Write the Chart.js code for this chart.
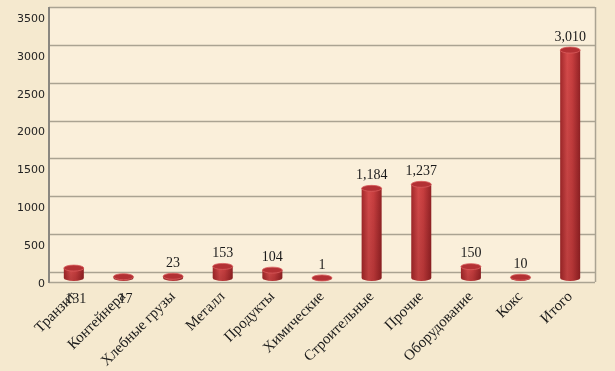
<!DOCTYPE html>
<html>
<head>
<meta charset="utf-8">
<script src="https://cdn.jsdelivr.net/npm/chart.js@4.4.0/dist/chart.umd.min.js"></script>
<style>
  html, body { margin: 0; padding: 0; background: #f5e9cf; }
  #wrap { width: 615px; height: 371px; }
</style>
</head>
<body>
<div id="wrap"><canvas id="myChart" width="615" height="371"></canvas></div>
<script>
// data
const categories = ['Транзит', 'Контейнера', 'Хлебные грузы', 'Металл', 'Продукты', 'Химические',
    'Строительные', 'Прочие', 'Оборудование', 'Кокс', 'Итого'];
const volumes = [131, 17, 23, 153, 104, 1, 1184, 1237, 150, 10, 3010];
const yTicks = [0, 500, 1000, 1500, 2000, 2500, 3000, 3500];
// labels that sit under the axis in the original
const labelsBelow = [0, 1];

const DEPTH = 10;   // back wall offset of the 3d look
const LIFT = 4;     // bars sit half way into the floor

// background + back wall grid
const wallPlugin = {
    id: 'wall',
    beforeDraw(chart) {
        const ctx = chart.ctx;
        const area = chart.chartArea;
        const y = chart.scales.y;
        ctx.save();
        ctx.fillStyle = '#f5e9cf';
        ctx.fillRect(0, 0, chart.width, chart.height);
        const top = y.getPixelForValue(3500) - DEPTH;
        ctx.fillStyle = '#faefda';
        ctx.fillRect(area.left, top, area.right - area.left, area.bottom - top);
        ctx.restore();
    },
    beforeDatasetsDraw(chart) {
        const ctx = chart.ctx;
        const area = chart.chartArea;
        const y = chart.scales.y;
        const top = y.getPixelForValue(3500) - DEPTH;
        ctx.save();
        ctx.strokeStyle = '#aaa392';
        ctx.lineWidth = 1.5;
        yTicks.forEach(v => {
            const py = Math.round(y.getPixelForValue(v) - DEPTH) + 0.5;
            ctx.beginPath();
            ctx.moveTo(area.left, py);
            ctx.lineTo(area.right, py);
            ctx.stroke();
        });
        // right border and floor
        ctx.beginPath();
        ctx.moveTo(area.right + 0.5, top);
        ctx.lineTo(area.right + 0.5, area.bottom);
        ctx.moveTo(area.left, area.bottom + 0.5);
        ctx.lineTo(area.right, area.bottom + 0.5);
        ctx.stroke();
        // left axis
        ctx.strokeStyle = '#8a8780';
        ctx.lineWidth = 2;
        ctx.beginPath();
        ctx.moveTo(area.left, top);
        ctx.lineTo(area.left, area.bottom + 1);
        ctx.stroke();
        ctx.restore();
    }
};

// cylinders drawn over the (invisible) bar elements
const cylinderPlugin = {
    id: 'cylinders',
    afterDatasetsDraw(chart) {
        const ctx = chart.ctx;
        const meta = chart.getDatasetMeta(0);
        ctx.save();
        meta.data.forEach((bar, i) => {
            const w = bar.width;
            const left = bar.x - w / 2;
            const top = bar.y - LIFT;
            const bottom = bar.base - LIFT;
            const ry = 3;

            const grad = ctx.createLinearGradient(left, 0, left + w, 0);
            grad.addColorStop(0, '#a2282a');
            grad.addColorStop(0.35, '#d44a4a');
            grad.addColorStop(0.6, '#c83e3f');
            grad.addColorStop(1, '#932225');

            ctx.fillStyle = grad;
            ctx.beginPath();
            ctx.moveTo(left, top);
            ctx.lineTo(left, bottom);
            ctx.ellipse(bar.x, bottom, w / 2, ry, 0, Math.PI, 0, true);
            ctx.lineTo(left + w, top);
            ctx.closePath();
            ctx.fill();

            // darker towards the floor
            const shade = ctx.createLinearGradient(0, top, 0, bottom);
            shade.addColorStop(0, 'rgba(0,0,0,0)');
            shade.addColorStop(1, 'rgba(60,0,0,0.15)');
            ctx.fillStyle = shade;
            ctx.fill();

            // top cap
            ctx.beginPath();
            ctx.ellipse(bar.x, top, w / 2, ry, 0, 0, Math.PI * 2);
            ctx.fillStyle = '#b33134';
            ctx.fill();
            ctx.strokeStyle = '#d85c5c';
            ctx.lineWidth = 0.8;
            ctx.stroke();

            // value label
            const v = volumes[i];
            ctx.fillStyle = '#1a1a1a';
            ctx.font = '14px "Liberation Serif", serif';
            ctx.textAlign = 'center';
            ctx.textBaseline = 'middle';
            const ly = labelsBelow.includes(i) ? bar.base + 17 : top - 13;
            ctx.fillText(v.toLocaleString('en-US'), bar.x + (labelsBelow.includes(i) ? 2 : 0), ly);
        });
        ctx.restore();
    }
};

const ctx = document.getElementById('myChart').getContext('2d');
const myChart = new Chart(ctx, {
    type: 'bar',
    data: {
        labels: categories,
        datasets: [{
            data: volumes,
            backgroundColor: 'rgba(0,0,0,0)',
            barThickness: 20
        }]
    },
    options: {
        responsive: false,
        animation: false,
        layout: {
            padding: { top: 17, right: 20, left: 0, bottom: 0 }
        },
        plugins: {
            legend: { display: false },
            tooltip: { enabled: false }
        },
        scales: {
            x: {
                grid: { display: false, drawTicks: false },
                border: { display: false },
                ticks: {
                    minRotation: 45,
                    maxRotation: 45,
                    autoSkip: false,
                    padding: 6,
                    color: '#1a1a1a',
                    font: { family: '"Liberation Serif", serif', size: 15 }
                },
                afterFit(scale) { scale.height = 89; }
            },
            y: {
                min: 0,
                max: 3500,
                grid: { display: false, drawTicks: false },
                border: { display: false },
                afterBuildTicks(scale) {
                    scale.ticks = yTicks.map(v => ({ value: v }));
                },
                ticks: {
                    padding: 4,
                    labelOffset: 2,
                    color: '#222',
                    font: { family: '"DejaVu Sans", sans-serif', size: 11 },
                    callback: v => String(v)
                },
                afterFit(scale) { scale.width = 49; }
            }
        }
    },
    plugins: [wallPlugin, cylinderPlugin]
});
</script>
</body>
</html>
